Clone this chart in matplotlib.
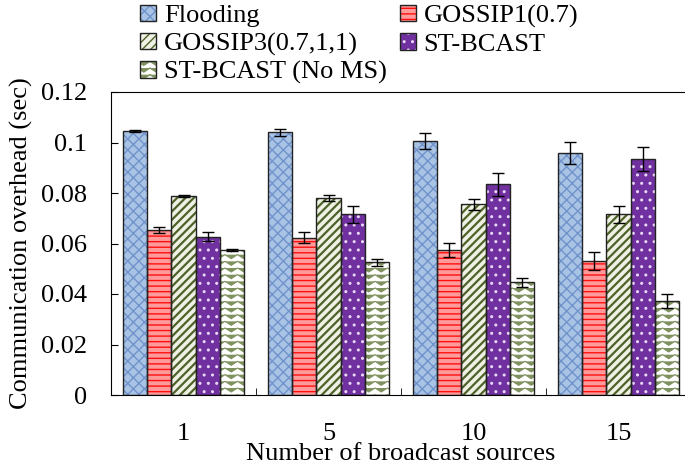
import numpy as np
import matplotlib
matplotlib.use('Agg')
import matplotlib.pyplot as plt
from matplotlib import hatch as mhatch
from matplotlib.path import Path

# Data
sources = ['1', '5', '10', '15']
series = ['Flooding', 'GOSSIP1(0.7)', 'GOSSIP3(0.7,1,1)', 'ST-BCAST', 'ST-BCAST (No MS)']

flooding = [0.1046, 0.1040, 0.1006, 0.0958]
gossip1 = [0.0653, 0.0623, 0.0574, 0.0531]
gossip3 = [0.0789, 0.0781, 0.0755, 0.0715]
stbcast = [0.0627, 0.0715, 0.0834, 0.0936]
stbcast_noms = [0.0574, 0.0525, 0.0446, 0.0372]

flooding_err = [0.0003, 0.0014, 0.0030, 0.0045]
gossip1_err = [0.0011, 0.0021, 0.0028, 0.0035]
gossip3_err = [0.0004, 0.0013, 0.0023, 0.0035]
stbcast_err = [0.0017, 0.0032, 0.0044, 0.0047]
stbcast_noms_err = [0.0003, 0.0013, 0.0019, 0.0027]

values = [flooding, gossip1, gossip3, stbcast, stbcast_noms]
errors = [flooding_err, gossip1_err, gossip3_err, stbcast_err, stbcast_noms_err]


# matplotlib has no zigzag hatch, so let '|' draw one (only the last series uses it)
class ZigZagHatch(mhatch.HatchPatternBase):
    def __init__(self, hatch, density):
        self.num_rows = int(hatch.count('|') * density * 1.25)
        self.periods = 8
        self.num_pts = 2 * self.periods + 1
        self.num_vertices = self.num_rows * self.num_pts

    def set_vertices_and_codes(self, vertices, codes):
        xs = np.linspace(0, 1, self.num_pts)
        amp = 0.3 / self.num_rows
        wave = np.where(np.arange(self.num_pts) % 2 == 0, amp, -amp)
        for r in range(self.num_rows):
            y0 = (r + 0.5) / self.num_rows
            s = slice(r * self.num_pts, (r + 1) * self.num_pts)
            vertices[s, 0] = xs
            vertices[s, 1] = y0 + wave
            codes[s] = Path.LINETO
            codes[r * self.num_pts] = Path.MOVETO


mhatch._hatch_types = [ZigZagHatch if h is mhatch.VerticalHatch else h
                       for h in mhatch._hatch_types]

plt.rcParams['font.family'] = ['Liberation Serif', 'DejaVu Serif']
plt.rcParams['font.size'] = 19

faces = ['#a9c3e5', '#ff9a9a', '#eef1e4', '#7030a0', '#ffffff']
hatch_colors = ['#7193cc', '#ff1010', '#4f6228', '#e8d8f4', '#7f915f']
hatches = ['xxx', '---', '////', '..', '||']
hatch_widths = [1.0, 1.0, 1.6, 1.0, 0.8]

fig = plt.figure(figsize=(6.85, 4.66), dpi=100)
ax = fig.add_axes([111 / 685, 71 / 466, 580 / 685, 303 / 466])

x = np.arange(len(sources))
width = 1 / 6
handles = []
for i, (vals, errs) in enumerate(zip(values, errors)):
    pos = x + (i - 2) * width
    with plt.rc_context({'hatch.linewidth': hatch_widths[i]}):
        fill = ax.bar(pos, vals, width, color=faces[i], hatch=hatches[i],
                      edgecolor=hatch_colors[i], linewidth=0, zorder=2)
    edge = ax.bar(pos, vals, width, fill=False, edgecolor='#222222',
                  linewidth=1.0, zorder=3)
    ax.errorbar(pos, vals, yerr=errs, fmt='none', ecolor='black',
                elinewidth=1, capsize=4, capthick=1, zorder=4)
    handles.append((fill[0], edge[0]))

ax.set_xlim(-0.5, len(sources) - 0.5)
ax.set_ylim(0, 0.12)
ax.set_yticks([0, 0.02, 0.04, 0.06, 0.08, 0.1, 0.12])
ax.set_yticklabels(['0', '0.02', '0.04', '0.06', '0.08', '0.1', '0.12'])
ax.set_xticks(x)
ax.set_xticklabels(sources)
ax.set_xticks(x[:-1] + 0.5, minor=True)
ax.tick_params(axis='x', which='major', length=0, pad=20)
ax.tick_params(axis='x', which='minor', direction='in', length=5)
ax.tick_params(axis='y', direction='in', length=5, pad=17)

ax.set_xlabel('Number of broadcast sources', labelpad=-1)
ax.set_ylabel('Communication overhead (sec)', labelpad=6)

order = [0, 2, 4, 1, 3]
fig.legend([handles[k] for k in order], [series[k] for k in order],
           ncol=2, loc='upper left', bbox_to_anchor=(140 / 685, 0.99),
           frameon=False, handlelength=0.6, handleheight=0.6,
           handletextpad=0.3, columnspacing=0.5, labelspacing=0.2,
           borderpad=0, borderaxespad=0)

fig.savefig('out.png', dpi=100)
